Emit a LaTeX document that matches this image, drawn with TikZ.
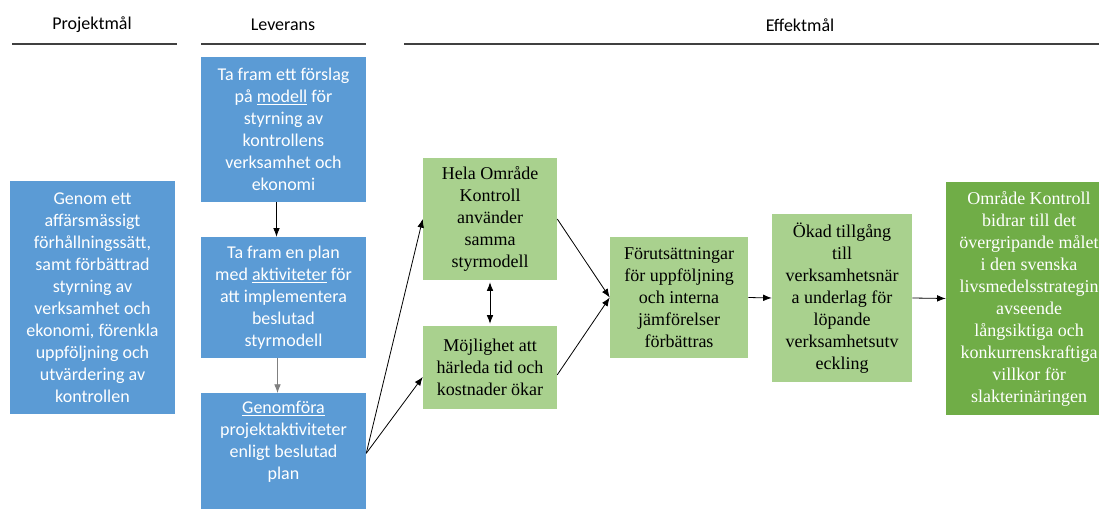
\documentclass[tikz,border=0pt]{standalone}
\usepackage{fontspec}
\setmainfont{Carlito}
\newfontfamily\tnr{Liberation Serif}
\usetikzlibrary{arrows.meta}
\definecolor{boxblue}{HTML}{5B9BD5}
\definecolor{lgreen}{HTML}{A9D18E}
\definecolor{dgreen}{HTML}{70AD47}
\definecolor{hdrline}{HTML}{404040}
\begin{document}
\begin{tikzpicture}[x=0.75pt,y=-0.75pt,
  font=\fontsize{13.5}{16.5}\selectfont,
  bluebox/.style={fill=boxblue, text=white, inner sep=0pt, align=center},
  gbox/.style={fill=lgreen, text=black, inner sep=0pt, align=center, font=\tnr\fontsize{13.5}{16.5}\selectfont},
  dbox/.style={fill=dgreen, text=white, inner sep=0pt, align=center, font=\tnr\fontsize{13.5}{16.5}\selectfont},
  title/.style={inner sep=0pt, text=black},
  hline/.style={draw=hdrline, line width=1.1pt},
  conn/.style={draw=black, line width=0.6pt, -{Latex[length=6.5pt,width=5pt]}},
  bconn/.style={draw=black, line width=0.6pt, {Latex[length=6.5pt,width=5pt]}-{Latex[length=6.5pt,width=5pt]}}
]
\useasboundingbox (0,0) rectangle (1099,509);
\clip (0,0) rectangle (1099,509);

% headers
\node[title] (t1) at (92,25) {Projektmål};
\node[title] (t2) at (283,25) {Leverans};
\node[title] (t3) at (800,25) {Effektmål};
\draw[hline] (12,44) -- (177,44);
\draw[hline] (201,44) -- (366,44);
\draw[hline] (404,44) -- (1099,44);

% Projektmål
\node[bluebox, minimum width=123.75pt, minimum height=174.75pt] (pm) at (92.5,297.5)
 {Genom ett\\affärsmässigt\\förhållningssätt,\\samt förbättrad\\styrning av\\verksamhet och\\ekonomi, förenkla\\uppföljning och\\utvärdering av\\kontrollen};

% Leverans
\node[bluebox, minimum width=123.75pt, minimum height=108.75pt] (l1) at (283.5,129.5)
 {Ta fram ett förslag\\på \underline{modell} för\\styrning av\\kontrollens\\verksamhet och\\ekonomi};
\node[bluebox, minimum width=123.75pt, minimum height=90.75pt] (l2) at (283.5,297.5)
 {Ta fram en plan\\med \underline{aktiviteter} för\\att implementera\\beslutad\\styrmodell};
\node[bluebox, minimum width=123.75pt, minimum height=105pt, anchor=north] (l3) at (283.5,393) {};
\node[bluebox, fill=none] (l3t) at (283.5,442)
 {\underline{Genomföra}\\projektaktiviteter\\enligt beslutad\\plan};

% Effektmål
\node[gbox, minimum width=100.5pt, minimum height=91.5pt] (a) at (490,219)
 {Hela Område\\Kontroll\\använder\\samma\\styrmodell};
\node[gbox, minimum width=100.5pt, minimum height=62.25pt] (b) at (490,367.5)
 {Möjlighet att\\härleda tid och\\kostnader ökar};
\node[gbox, minimum width=103.5pt, minimum height=90.75pt] (c) at (679,297.5)
 {Förutsättningar\\för uppföljning\\och interna\\jämförelser\\förbättras};
\node[gbox, minimum width=105pt, minimum height=126pt] (d) at (842,298)
 {Ökad tillgång\\till\\verksamhetsnär\\a underlag för\\löpande\\verksamhetsutv\\eckling};
\node[dbox, minimum width=124.5pt, minimum height=174.75pt] (e) at (1029,298.5)
 {Område Kontroll\\bidrar till det\\övergripande målet\\i den svenska\\livsmedelsstrategin\\avseende\\långsiktiga och\\konkurrenskraftiga\\villkor för\\slakterinäringen};

% connectors
\draw[conn] ([xshift=-5.25pt]l1.south) -- ([xshift=-5.25pt]l2.north);
\draw[conn, draw=gray] ([xshift=-4.5pt]l2.south) -- ([xshift=-4.5pt]l3.north);
\draw[conn] ([yshift=7.5pt]l3.east) -- (a.west);
\draw[conn] ([yshift=7.5pt]l3.east) -- ([yshift=-7.1pt]b.west);
\draw[bconn, shorten <=1.5pt, shorten >=1.5pt] (a.south) -- (b.north);
\draw[conn] (a.east) -- (c.west);
\draw[conn] ([yshift=-5.5pt]b.east) -- (c.west);
\draw[conn] (c.east) -- (d.west);
\draw[conn] (d.east) -- (e.west);
\end{tikzpicture}
\end{document}
